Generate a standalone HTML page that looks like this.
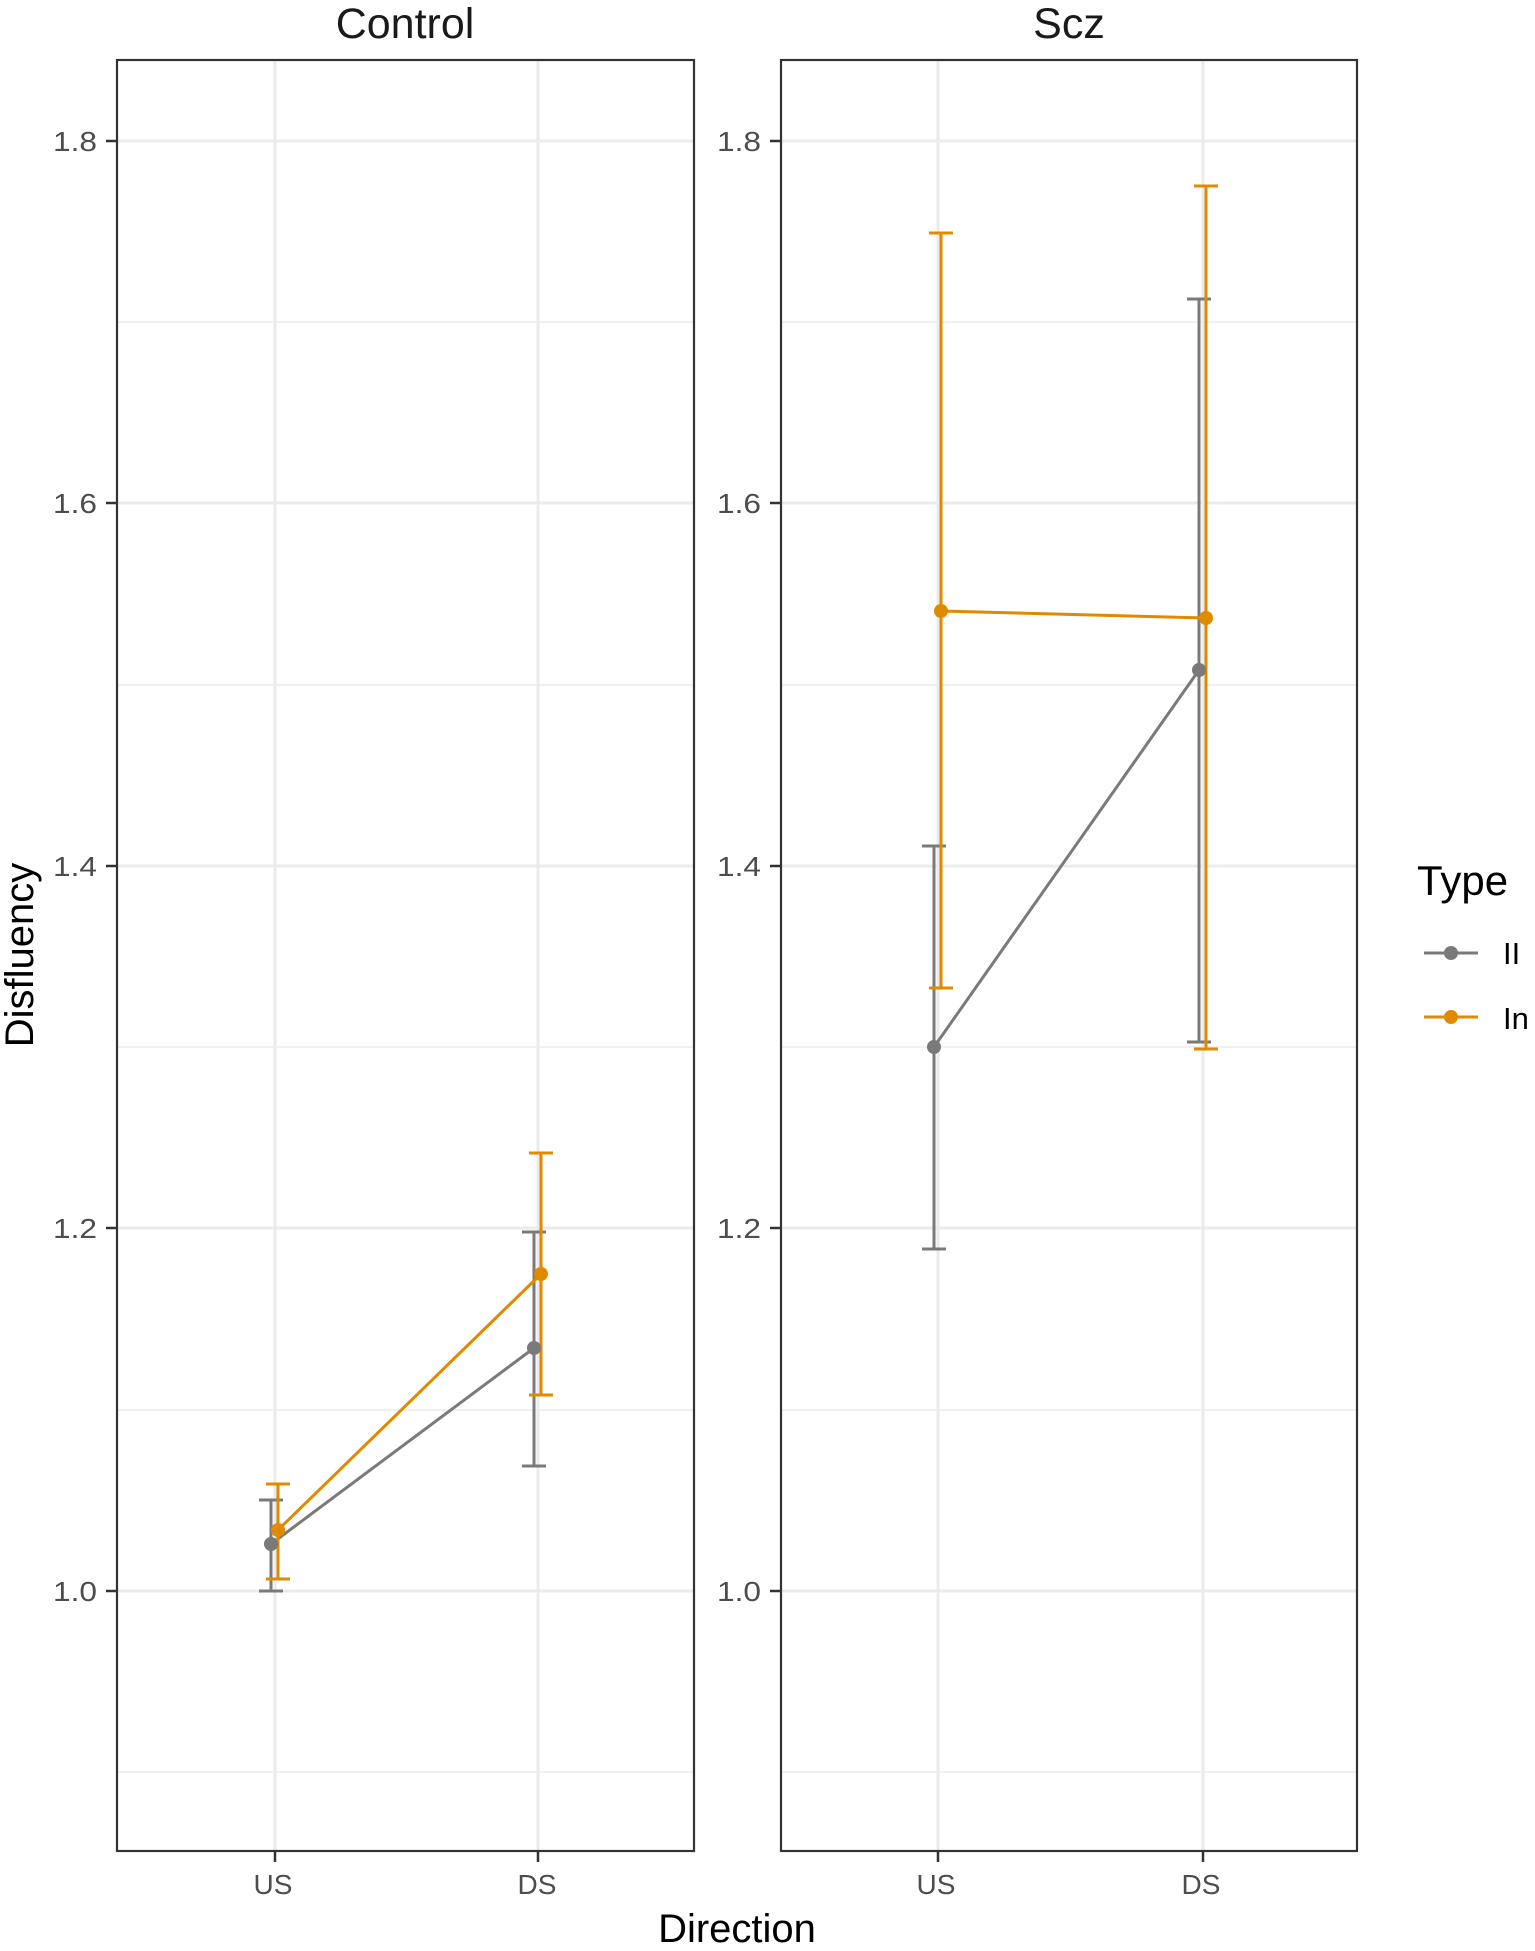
<!DOCTYPE html>
<html><head><meta charset="utf-8"><style>
html,body{margin:0;padding:0;background:#fff;}
svg{display:block;font-family:"Liberation Sans",Arial,sans-serif;}
.tick{font-size:28px;fill:#4d4d4d;}
</style></head><body>
<svg width="1535" height="1951" viewBox="0 0 1535 1951" xmlns="http://www.w3.org/2000/svg">
<rect width="1535" height="1951" fill="#fff"/>
<g stroke="#ebebeb">
 <g stroke-width="1.6">
  <line x1="117" x2="694" y1="1772" y2="1772"/><line x1="117" x2="694" y1="1410" y2="1410"/>
  <line x1="117" x2="694" y1="1047" y2="1047"/><line x1="117" x2="694" y1="685" y2="685"/>
  <line x1="117" x2="694" y1="322" y2="322"/>
  <line x1="781" x2="1357" y1="1772" y2="1772"/><line x1="781" x2="1357" y1="1410" y2="1410"/>
  <line x1="781" x2="1357" y1="1047" y2="1047"/><line x1="781" x2="1357" y1="685" y2="685"/>
  <line x1="781" x2="1357" y1="322" y2="322"/>
 </g>
 <g stroke-width="3">
  <line x1="117" x2="694" y1="1591" y2="1591"/><line x1="117" x2="694" y1="1228" y2="1228"/>
  <line x1="117" x2="694" y1="866" y2="866"/><line x1="117" x2="694" y1="503" y2="503"/>
  <line x1="117" x2="694" y1="141" y2="141"/>
  <line x1="275" x2="275" y1="60" y2="1851"/><line x1="538" x2="538" y1="60" y2="1851"/>
  <line x1="781" x2="1357" y1="1591" y2="1591"/><line x1="781" x2="1357" y1="1228" y2="1228"/>
  <line x1="781" x2="1357" y1="866" y2="866"/><line x1="781" x2="1357" y1="503" y2="503"/>
  <line x1="781" x2="1357" y1="141" y2="141"/>
  <line x1="938" x2="938" y1="60" y2="1851"/><line x1="1203" x2="1203" y1="60" y2="1851"/>
 </g>
</g>
<g stroke-width="3" fill="none">
 <g stroke="#7a7a7a">
  <line x1="271" x2="271" y1="1591" y2="1500"/><line x1="259" x2="283" y1="1591" y2="1591"/><line x1="259" x2="283" y1="1500" y2="1500"/>
  <line x1="534" x2="534" y1="1466" y2="1232"/><line x1="522" x2="546" y1="1466" y2="1466"/><line x1="522" x2="546" y1="1232" y2="1232"/>
  <line x1="271" y1="1544" x2="534" y2="1348"/>
 </g>
 <g stroke="#e08a00">
  <line x1="278" x2="278" y1="1579" y2="1484"/><line x1="266" x2="290" y1="1579" y2="1579"/><line x1="266" x2="290" y1="1484" y2="1484"/>
  <line x1="541" x2="541" y1="1395" y2="1153"/><line x1="529" x2="553" y1="1395" y2="1395"/><line x1="529" x2="553" y1="1153" y2="1153"/>
  <line x1="278" y1="1530" x2="541" y2="1274"/>
 </g>
 <g stroke="#7a7a7a">
  <line x1="934" x2="934" y1="1249" y2="846"/><line x1="922" x2="946" y1="1249" y2="1249"/><line x1="922" x2="946" y1="846" y2="846"/>
  <line x1="1199" x2="1199" y1="1042" y2="299"/><line x1="1187" x2="1211" y1="1042" y2="1042"/><line x1="1187" x2="1211" y1="299" y2="299"/>
  <line x1="934" y1="1047" x2="1199" y2="670"/>
 </g>
 <g stroke="#e08a00">
  <line x1="941" x2="941" y1="988" y2="233"/><line x1="929" x2="953" y1="988" y2="988"/><line x1="929" x2="953" y1="233" y2="233"/>
  <line x1="1206" x2="1206" y1="1049" y2="186"/><line x1="1194" x2="1218" y1="1049" y2="1049"/><line x1="1194" x2="1218" y1="186" y2="186"/>
  <line x1="941" y1="611" x2="1206" y2="618"/>
 </g>
</g>
<g fill="#7a7a7a">
 <circle cx="271" cy="1544" r="7"/><circle cx="534" cy="1348" r="7"/>
 <circle cx="934" cy="1047" r="7"/><circle cx="1199" cy="670" r="7"/>
</g>
<g fill="#e08a00">
 <circle cx="278" cy="1530" r="7"/><circle cx="541" cy="1274" r="7"/>
 <circle cx="941" cy="611" r="7"/><circle cx="1206" cy="618" r="7"/>
</g>
<rect x="117" y="60" width="577" height="1791" fill="none" stroke="#333" stroke-width="2.2"/>
<rect x="781" y="60" width="576" height="1791" fill="none" stroke="#333" stroke-width="2.2"/>
<g stroke="#333" stroke-width="2.5">
 <line x1="106" x2="117" y1="141" y2="141"/><line x1="106" x2="117" y1="503" y2="503"/>
 <line x1="106" x2="117" y1="866" y2="866"/><line x1="106" x2="117" y1="1228" y2="1228"/>
 <line x1="106" x2="117" y1="1591" y2="1591"/>
 <line x1="770" x2="781" y1="141" y2="141"/><line x1="770" x2="781" y1="503" y2="503"/>
 <line x1="770" x2="781" y1="866" y2="866"/><line x1="770" x2="781" y1="1228" y2="1228"/>
 <line x1="770" x2="781" y1="1591" y2="1591"/>
 <line x1="275" x2="275" y1="1851" y2="1862"/><line x1="538" x2="538" y1="1851" y2="1862"/>
 <line x1="938" x2="938" y1="1851" y2="1862"/><line x1="1203" x2="1203" y1="1851" y2="1862"/>
</g>
<g class="tick" text-anchor="end">
 <text x="97" y="151" textLength="44" lengthAdjust="spacingAndGlyphs">1.8</text><text x="97" y="513" textLength="44" lengthAdjust="spacingAndGlyphs">1.6</text><text x="97" y="876" textLength="44" lengthAdjust="spacingAndGlyphs">1.4</text>
 <text x="97" y="1238" textLength="44" lengthAdjust="spacingAndGlyphs">1.2</text><text x="97" y="1601" textLength="44" lengthAdjust="spacingAndGlyphs">1.0</text>
 <text x="761" y="151" textLength="44" lengthAdjust="spacingAndGlyphs">1.8</text><text x="761" y="513" textLength="44" lengthAdjust="spacingAndGlyphs">1.6</text><text x="761" y="876" textLength="44" lengthAdjust="spacingAndGlyphs">1.4</text>
 <text x="761" y="1238" textLength="44" lengthAdjust="spacingAndGlyphs">1.2</text><text x="761" y="1601" textLength="44" lengthAdjust="spacingAndGlyphs">1.0</text>
</g>
<g class="tick" text-anchor="middle">
 <text x="273" y="1894">US</text><text x="537" y="1894">DS</text>
 <text x="936" y="1894">US</text><text x="1201" y="1894">DS</text>
</g>
<g font-size="43" fill="#1a1a1a" text-anchor="middle">
 <text x="405" y="38">Control</text><text x="1069" y="38">Scz</text>
</g>
<text x="737" y="1942" font-size="40" fill="#000" text-anchor="middle">Direction</text>
<text transform="translate(33,955) rotate(-90)" font-size="40" fill="#000" text-anchor="middle">Disfluency</text>
<text x="1417" y="895" font-size="42" fill="#000">Type</text>
<line x1="1424" x2="1478" y1="953" y2="953" stroke="#7a7a7a" stroke-width="3"/>
<circle cx="1451" cy="953" r="7" fill="#7a7a7a"/>
<line x1="1424" x2="1478" y1="1017" y2="1017" stroke="#e08a00" stroke-width="3"/>
<circle cx="1451" cy="1017" r="7" fill="#e08a00"/>
<text x="1503" y="964" font-size="31" fill="#000">II</text>
<text x="1503" y="1029" font-size="31" fill="#000">In</text>
</svg>
</body></html>
